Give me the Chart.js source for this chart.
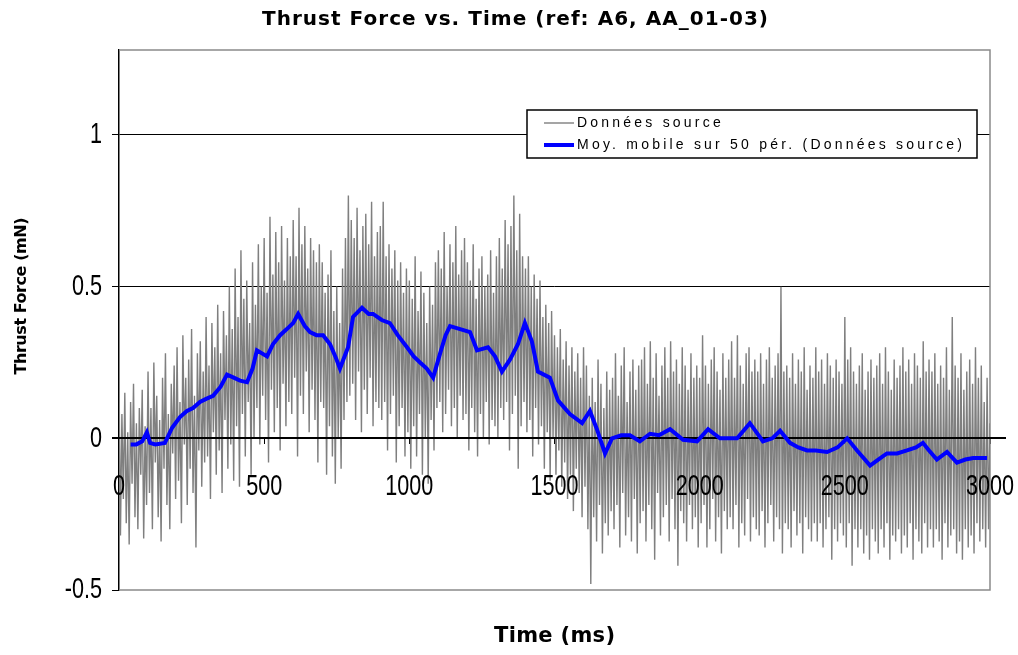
<!DOCTYPE html>
<html>
<head>
<meta charset="utf-8">
<script src="https://cdn.jsdelivr.net/npm/chart.js@4.4.1/dist/chart.umd.min.js"></script>
<style>
  html, body { margin: 0; padding: 0; background: #fff; }
  canvas { display: block; }
</style>
</head>
<body>
<canvas id="chart" width="1018" height="655"></canvas>
<script>
// raw thrust samples, one every 5 ms from 0 to 3000 ms
const sampleStepMs = 5;
const sourceValues = [
  0.20, -0.32, 0.08, -0.20, 0.15, -0.28, 0.02, -0.35, 0.12, -0.15, 0.18, -0.26, 0.05, -0.30, 0.10, -0.12, 0.16, -0.33, 0.04, -0.22,
  0.22, -0.18, 0.10, -0.30, 0.25, -0.08, 0.14, -0.26, 0.06, -0.34, 0.20, -0.10, 0.28, -0.22, 0.08, -0.30, 0.18, -0.05, 0.24, -0.20,
  0.30, -0.14, 0.12, -0.28, 0.34, -0.02, 0.20, -0.22, 0.26, -0.10, 0.36, -0.18, 0.14, -0.36, 0.28, -0.04, 0.32, -0.16, 0.22, -0.08,
  0.40, -0.06, 0.24, -0.20, 0.38, 0.02, 0.30, -0.12, 0.44, -0.04, 0.28, -0.18, 0.42, 0.06, 0.34, -0.10, 0.50, -0.02, 0.36, -0.14,
  0.56, 0.04, 0.40, -0.16, 0.62, 0.08, 0.46, -0.06, 0.52, 0.12, 0.38, -0.12, 0.58, 0.00, 0.44, 0.10, 0.64, -0.02, 0.50, 0.14,
  0.66, 0.06, 0.48, -0.08, 0.73, 0.16, 0.54, 0.02, 0.68, 0.10, 0.58, -0.04, 0.70, 0.18, 0.52, 0.04, 0.66, 0.12, 0.60, 0.08,
  0.72, 0.20, 0.60, -0.06, 0.76, 0.14, 0.64, 0.08, 0.70, 0.22, 0.56, 0.02, 0.66, 0.16, 0.62, 0.06, 0.58, -0.08, 0.64, 0.12,
  0.58, 0.10, 0.48, -0.12, 0.54, 0.04, 0.62, -0.06, 0.42, -0.15, 0.50, 0.00, 0.38, -0.10, 0.56, 0.06, 0.66, 0.12, 0.80, 0.14,
  0.72, 0.18, 0.66, 0.06, 0.76, 0.22, 0.62, 0.02, 0.70, 0.16, 0.74, 0.08, 0.64, 0.20, 0.78, 0.04, 0.60, 0.12, 0.68, 0.10,
  0.70, 0.06, 0.78, 0.12, 0.60, -0.04, 0.64, 0.08, 0.56, 0.14, 0.62, -0.08, 0.52, 0.04, 0.58, 0.10, 0.48, -0.06, 0.56, 0.02,
  0.52, -0.10, 0.46, 0.04, 0.60, -0.06, 0.42, 0.08, 0.55, -0.12, 0.48, 0.00, 0.38, -0.15, 0.50, 0.06, 0.44, -0.04, 0.58, 0.10,
  0.62, 0.12, 0.56, 0.02, 0.68, 0.08, 0.50, 0.16, 0.64, 0.04, 0.58, 0.10, 0.70, 0.00, 0.54, 0.14, 0.62, 0.06, 0.66, 0.08,
  0.58, -0.04, 0.52, 0.10, 0.64, 0.02, 0.46, -0.06, 0.56, 0.08, 0.60, 0.00, 0.50, 0.12, 0.54, -0.02, 0.62, 0.06, 0.48, 0.04,
  0.60, 0.00, 0.66, 0.10, 0.56, 0.06, 0.72, 0.12, 0.64, -0.04, 0.70, 0.08, 0.80, 0.14, 0.62, -0.10, 0.74, 0.04, 0.60, 0.12,
  0.56, 0.02, 0.60, 0.06, 0.50, -0.06, 0.54, 0.10, 0.46, -0.02, 0.52, 0.04, 0.40, -0.10, 0.44, 0.02, 0.38, -0.14, 0.42, 0.00,
  0.34, -0.12, 0.30, -0.04, 0.36, -0.16, 0.26, -0.08, 0.32, -0.20, 0.24, -0.12, 0.30, -0.24, 0.22, -0.10, 0.28, -0.18, 0.20, -0.26,
  0.30, -0.16, 0.24, -0.30, 0.14, -0.48, 0.20, -0.26, 0.12, -0.34, 0.26, -0.22, 0.18, -0.38, 0.10, -0.28, 0.22, -0.32, 0.16, -0.24,
  0.20, -0.30, 0.28, -0.22, 0.14, -0.36, 0.24, -0.18, 0.30, -0.32, 0.12, -0.26, 0.22, -0.34, 0.26, -0.20, 0.16, -0.38, 0.24, -0.28,
  0.26, -0.24, 0.30, -0.34, 0.18, -0.22, 0.32, -0.30, 0.20, -0.40, 0.28, -0.18, 0.14, -0.32, 0.24, -0.26, 0.30, -0.22, 0.20, -0.34,
  0.32, -0.20, 0.22, -0.30, 0.26, -0.42, 0.18, -0.24, 0.30, -0.28, 0.24, -0.34, 0.16, -0.22, 0.28, -0.30, 0.20, -0.26, 0.24, -0.36,
  0.20, -0.28, 0.34, -0.22, 0.24, -0.36, 0.18, -0.30, 0.26, -0.20, 0.30, -0.34, 0.22, -0.26, 0.16, -0.38, 0.28, -0.24, 0.20, -0.30,
  0.26, -0.26, 0.32, -0.30, 0.20, -0.22, 0.34, -0.36, 0.24, -0.28, 0.18, -0.32, 0.28, -0.20, 0.30, -0.34, 0.22, -0.26, 0.26, -0.30,
  0.22, -0.32, 0.28, -0.24, 0.18, -0.36, 0.26, -0.28, 0.30, -0.22, 0.20, -0.34, 0.24, -0.26, 0.28, -0.30, 0.50, -0.38, 0.22, -0.28,
  0.24, -0.30, 0.20, -0.36, 0.28, -0.24, 0.18, -0.32, 0.26, -0.28, 0.22, -0.38, 0.30, -0.26, 0.16, -0.30, 0.24, -0.34, 0.20, -0.28,
  0.30, -0.34, 0.22, -0.28, 0.26, -0.36, 0.18, -0.30, 0.28, -0.26, 0.24, -0.40, 0.20, -0.30, 0.26, -0.34, 0.22, -0.28, 0.18, -0.32,
  0.40, -0.36, 0.26, -0.28, 0.30, -0.42, 0.22, -0.30, 0.18, -0.36, 0.24, -0.30, 0.28, -0.38, 0.16, -0.32, 0.22, -0.40, 0.26, -0.30,
  0.20, -0.34, 0.24, -0.38, 0.28, -0.30, 0.18, -0.36, 0.30, -0.28, 0.22, -0.40, 0.16, -0.32, 0.26, -0.34, 0.20, -0.30, 0.24, -0.38,
  0.30, -0.32, 0.22, -0.36, 0.26, -0.28, 0.18, -0.40, 0.28, -0.30, 0.24, -0.34, 0.20, -0.38, 0.32, -0.28, 0.22, -0.36, 0.26, -0.30,
  0.22, -0.36, 0.28, -0.30, 0.18, -0.34, 0.24, -0.40, 0.20, -0.28, 0.30, -0.36, 0.16, -0.32, 0.40, -0.30, 0.24, -0.38, 0.20, -0.34,
  0.28, -0.40, 0.16, -0.30, 0.22, -0.36, 0.26, -0.32, 0.18, -0.38, 0.30, -0.28, 0.20, -0.34, 0.24, -0.30, 0.12, -0.36, 0.20, -0.30, 0.05
];

// 50-period moving average
const avgTimes = [
  40, 60, 80, 96, 107, 125, 158, 183, 210, 234, 255, 279, 300, 324, 350, 372,
  395, 417, 441, 460, 475, 510, 530, 555, 578, 600, 617, 640, 658, 680, 703,
  727, 745, 761, 789, 806, 837, 860, 875, 905, 933, 960, 992, 1015, 1037, 1060,
  1082, 1106, 1125, 1140, 1175, 1209, 1233, 1271, 1295, 1319, 1347, 1374, 1398,
  1422, 1443, 1484, 1512, 1553, 1595, 1622, 1646, 1674, 1698, 1730, 1760, 1794,
  1829, 1860, 1898, 1943, 1991, 2029, 2070, 2129, 2173, 2218, 2250, 2277, 2311,
  2340, 2370, 2400, 2439, 2475, 2508, 2542, 2587, 2615, 2645, 2680, 2714, 2745,
  2769, 2790, 2817, 2852, 2886, 2915, 2942, 2970, 2990
];
const avgValues = [
  -0.02, -0.02, -0.01, 0.02, -0.015, -0.02, -0.015, 0.035, 0.07, 0.09, 0.10,
  0.12, 0.13, 0.14, 0.17, 0.21, 0.20, 0.19, 0.185, 0.23, 0.29, 0.27, 0.31, 0.34,
  0.36, 0.38, 0.41, 0.37, 0.35, 0.34, 0.34, 0.31, 0.27, 0.23, 0.30, 0.40, 0.43,
  0.41, 0.41, 0.39, 0.38, 0.34, 0.30, 0.27, 0.25, 0.23, 0.20, 0.28, 0.34, 0.37,
  0.36, 0.35, 0.29, 0.30, 0.27, 0.22, 0.26, 0.31, 0.38, 0.32, 0.22, 0.20, 0.125,
  0.08, 0.05, 0.09, 0.03, -0.05, 0.00, 0.01, 0.01, -0.01, 0.015, 0.01, 0.03,
  -0.005, -0.01, 0.03, 0.00, 0.00, 0.05, -0.01, 0.00, 0.025, -0.015, -0.03,
  -0.04, -0.04, -0.045, -0.03, 0.00, -0.04, -0.09, -0.07, -0.05, -0.05, -0.04,
  -0.03, -0.015, -0.04, -0.07, -0.045, -0.08, -0.07, -0.065, -0.065, -0.065
];

const yTicks = [-0.5, 0, 0.5, 1];
const xTicks = [0, 500, 1000, 1500, 2000, 2500, 3000];

const titleText = "Thrust Force vs. Time (ref: A6, AA_01-03)";
const yTitleText = "Thrust Force (mN)";
const xTitleText = "Time (ms)";
const seriesLabels = ["Données source", "Moy. mobile sur 50 pér. (Données source)"];

// draw text stretched with letter spacing to a target width
function fitText(ctx, text, font, width, x, y, angle) {
  ctx.save();
  ctx.font = font;
  ctx.letterSpacing = "0px";
  const natural = ctx.measureText(text).width;
  const spacing = (width - natural) / Math.max(1, text.length - 1);
  ctx.letterSpacing = spacing + "px";
  ctx.translate(x, y);
  if (angle) ctx.rotate(angle);
  ctx.textAlign = "center";
  ctx.textBaseline = "middle";
  ctx.fillStyle = "#000";
  ctx.fillText(text, spacing / 2, 0);
  ctx.restore();
}

// tall, narrow tick numbers like the original
function tickLabel(ctx, text, x, y, align) {
  ctx.save();
  ctx.translate(x, y);
  ctx.scale(0.72, 1);
  ctx.font = "30px 'Liberation Sans', Arial, sans-serif";
  ctx.textAlign = align;
  ctx.textBaseline = "middle";
  ctx.fillStyle = "#000";
  ctx.fillText(text, 0, 0);
  ctx.restore();
}

const frame = {
  id: "frame",
  beforeDatasetsDraw(chart) {
    const { ctx, chartArea: a } = chart;
    ctx.save();
    ctx.strokeStyle = "#8a8a8a";
    ctx.lineWidth = 1.5;
    ctx.beginPath();
    ctx.moveTo(a.left, a.top);
    ctx.lineTo(a.right, a.top);
    ctx.lineTo(a.right, a.bottom);
    ctx.lineTo(a.left, a.bottom);
    ctx.stroke();
    ctx.restore();
  },
  afterDatasetDraw(chart, args) {
    if (args.index !== 0) return;
    // zero line sits over the raw data, under the average
    const { ctx, chartArea: a } = chart;
    const y0 = Math.round(chart.scales.y.getPixelForValue(0));
    ctx.save();
    ctx.strokeStyle = "#000";
    ctx.lineWidth = 2;
    ctx.beginPath();
    ctx.moveTo(a.left - 7, y0);
    ctx.lineTo(a.right + 16, y0);
    ctx.stroke();
    ctx.restore();
  },
  afterDraw(chart) {
    const { ctx, chartArea: a, scales } = chart;
    fitText(ctx, titleText, "bold 20px 'DejaVu Sans'", 506, 515, 20);
    fitText(ctx, yTitleText, "bold 16px 'DejaVu Sans'", 157, 22, 296, -Math.PI / 2);
    fitText(ctx, xTitleText, "bold 21px 'DejaVu Sans'", 121, (a.left + a.right) / 2, 637);

    // tick numbers
    const y0 = scales.y.getPixelForValue(0);
    scales.xz.ticks.forEach((t) => {
      tickLabel(ctx, String(t.value), scales.xz.getPixelForValue(t.value), y0 + 48, "center");
    });
    scales.y.ticks.forEach((t) => {
      tickLabel(ctx, String(t.value), a.left - 17, scales.y.getPixelForValue(t.value), "right");
    });

    // legend box inside the plot
    const box = { left: 527, top: 110, right: 977, bottom: 158 };
    ctx.save();
    ctx.fillStyle = "#fff";
    ctx.fillRect(box.left, box.top, box.right - box.left, box.bottom - box.top);
    ctx.strokeStyle = "#000";
    ctx.lineWidth = 1.5;
    ctx.strokeRect(box.left, box.top, box.right - box.left, box.bottom - box.top);
    const rows = [123, 145];
    chart.data.datasets.forEach((ds, i) => {
      ctx.strokeStyle = ds.borderColor;
      ctx.lineWidth = ds.borderWidth;
      ctx.beginPath();
      ctx.moveTo(544, rows[i]);
      ctx.lineTo(574, rows[i]);
      ctx.stroke();
    });
    ctx.restore();
    ctx.save();
    ctx.font = "14px 'Liberation Sans', Arial, sans-serif";
    const w2 = ctx.measureText(seriesLabels[1]).width;
    const spacing = (385 - w2) / (seriesLabels[1].length - 1);
    ctx.letterSpacing = spacing + "px";
    ctx.fillStyle = "#000";
    ctx.textBaseline = "middle";
    ctx.fillText(seriesLabels[0], 577, rows[0]);
    ctx.fillText(seriesLabels[1], 577, rows[1]);
    ctx.restore();
  }
};

new Chart(document.getElementById("chart"), {
  type: "line",
  data: {
    datasets: [
      {
        label: seriesLabels[0],
        data: sourceValues.map((v, i) => ({ x: i * sampleStepMs, y: v })),
        borderColor: "#7f7f7f",
        borderWidth: 1.4,
        pointRadius: 0,
        tension: 0,
        order: 2,
      },
      {
        label: seriesLabels[1],
        data: avgValues.map((v, i) => ({ x: avgTimes[i], y: v })),
        borderColor: "#0000ff",
        borderWidth: 4,
        pointRadius: 0,
        tension: 0,
        order: 1,
      },
    ],
  },
  options: {
    responsive: false,
    animation: false,
    devicePixelRatio: 1,
    layout: { padding: { top: 50, right: 28, bottom: 0, left: 0 } },
    plugins: {
      legend: { display: false },
      title: { display: false },
      tooltip: { enabled: false },
    },
    scales: {
      x: {
        type: "linear",
        min: 0,
        max: 3000,
        grid: { display: false },
        border: { display: false },
        ticks: { display: false },
        afterFit(scale) {
          scale.height = 65;
        },
      },
      xz: {
        type: "linear",
        axis: "x",
        min: 0,
        max: 3000,
        position: { y: 0 },
        afterBuildTicks(scale) {
          scale.ticks = xTicks.map((v) => ({ value: v }));
        },
        grid: {
          drawOnChartArea: false,
          drawTicks: true,
          tickLength: 6,
          tickColor: "#000",
          color: "#000",
        },
        border: { display: false },
        ticks: { display: false },
      },
      y: {
        type: "linear",
        min: -0.5,
        max: 1.28,
        afterBuildTicks(scale) {
          scale.ticks = yTicks.map((v) => ({ value: v }));
        },
        afterFit(scale) {
          scale.width = 119;
        },
        grid: {
          color: (c) => (c.tick && (c.tick.value === 0 || c.tick.value === -0.5) ? "rgba(0,0,0,0)" : "#000"),
          lineWidth: 1,
          tickColor: "#000",
          tickLength: 7,
        },
        border: { color: "#000", width: 1.5 },
        ticks: { display: false },
      },
    },
  },
  plugins: [frame],
});
</script>
</body>
</html>
